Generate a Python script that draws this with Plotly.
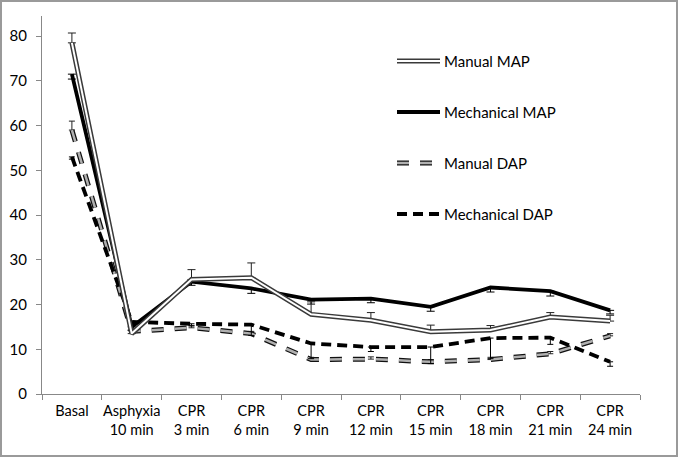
import plotly.graph_objects as go

categories = ["Basal", "Asphyxia<br>10 min", "CPR<br>3 min", "CPR<br>6 min", "CPR<br>9 min",
              "CPR<br>12 min", "CPR<br>15 min", "CPR<br>18 min", "CPR<br>21 min", "CPR<br>24 min"]

manual_map = [78.5, 13.5, 25.6, 26.0, 17.8, 16.5, 13.9, 14.3, 17.2, 16.3]
manual_map_err = [2.2, 0.8, 2.2, 3.3, 2.8, 1.7, 1.5, 1.0, 1.0, 1.3]
mech_map = [71.5, 15.0, 25.1, 23.6, 21.1, 21.3, 19.5, 23.8, 23.0, 18.7]
mech_map_err = [1.1, 0.8, 0.8, 1.1, 1.0, 0.9, 1.0, 1.0, 1.1, 0.8]
manual_dap = [59.0, 14.0, 14.8, 13.5, 7.7, 7.8, 7.2, 7.7, 9.0, 13.0]
manual_dap_err = [2.0, 0.5, 0.5, 0.5, 0.5, 0.5, 0.5, 0.5, 0.5, 0.5]
mech_dap = [53.0, 16.1, 15.7, 15.5, 11.3, 10.5, 10.5, 12.5, 12.6, 7.2]
mech_dap_err = [0.5, 0.5, 0.5, 2.4, 3.4, 1.0, 3.7, 4.6, 1.5, 1.0]

legend_names = ["Manual MAP", "Mechanical MAP", "Manual DAP", "Mechanical DAP"]

zeros = [0] * len(categories)
fig = go.Figure()

# Manual DAP (outlined gray dashes)
fig.add_trace(go.Scatter(x=categories, y=manual_dap, mode="lines",
                         line=dict(color="#111", width=5, dash="12px,11px"),
                         error_y=dict(type="data", symmetric=False, array=manual_dap_err,
                                      arrayminus=zeros, color="#222", thickness=1, width=3),
                         showlegend=False))
fig.add_trace(go.Scatter(x=categories, y=manual_dap, mode="lines",
                         line=dict(color="#b0b0b0", width=2.5, dash="12px,11px"),
                         showlegend=False))
# Mechanical DAP
fig.add_trace(go.Scatter(x=categories, y=mech_dap, mode="lines",
                         line=dict(color="black", width=3.8, dash="10px,6px"),
                         error_y=dict(type="data", symmetric=False, array=zeros,
                                      arrayminus=mech_dap_err, color="black", thickness=1, width=3),
                         showlegend=False))
# Mechanical MAP
fig.add_trace(go.Scatter(x=categories, y=mech_map, mode="lines",
                         line=dict(color="black", width=3.8),
                         error_y=dict(type="data", symmetric=False, array=zeros,
                                      arrayminus=mech_map_err, color="black", thickness=1, width=4),
                         showlegend=False))
# Manual MAP (double line)
fig.add_trace(go.Scatter(x=categories, y=manual_map, mode="lines",
                         line=dict(color="#3a3a3a", width=5),
                         error_y=dict(type="data", symmetric=False, array=manual_map_err,
                                      arrayminus=zeros, color="#222", thickness=1, width=4),
                         showlegend=False))
fig.add_trace(go.Scatter(x=categories, y=manual_map, mode="lines",
                         line=dict(color="white", width=2),
                         showlegend=False))

# Manual legend (decoration)
L, T, W, H = 42, 16, 598, 378
def px(xp):
    return (xp - L) / W
def py(yp):
    return (T + H - yp) / H

leg_y = [61, 112, 163, 214]
x0, x1, xt = 397, 440, 442
shapes = []
annotations = []
styles = [
    [dict(color="#3a3a3a", width=5), dict(color="white", width=2)],
    [dict(color="black", width=3.8)],
    [dict(color="#111", width=5, dash="12px,11px"), dict(color="#b0b0b0", width=2.5, dash="12px,11px")],
    [dict(color="black", width=3.8, dash="10px,6px")],
]
for name, yy, st in zip(legend_names, leg_y, styles):
    for s in st:
        shapes.append(dict(type="line", xref="paper", yref="paper",
                           x0=px(x0), x1=px(x1), y0=py(yy), y1=py(yy), line=s))
    annotations.append(dict(xref="paper", yref="paper", x=px(xt), y=py(yy), text=name,
                            showarrow=False, xanchor="left", yanchor="middle",
                            font=dict(family="Lato", size=15, color="black")))

# outer border
shapes.append(dict(type="rect", xref="paper", yref="paper",
                   x0=px(1), x1=px(677), y0=py(456), y1=py(1),
                   line=dict(color="#9a9a9a", width=2)))

fig.update_layout(
    width=678, height=457,
    margin=dict(l=L, r=678 - L - W, t=T, b=457 - T - H),
    paper_bgcolor="white", plot_bgcolor="white",
    showlegend=False,
    shapes=shapes, annotations=annotations,
    font=dict(family="Lato", size=14, color="black"),
    xaxis=dict(type="category", range=[-0.5, 9.5], showgrid=False, zeroline=False,
               showline=True, linecolor="#888", linewidth=1, automargin=False,
               tickangle=0, ticklabelstandoff=4,
               ticks="outside", tickson="boundaries", ticklen=5, tickcolor="#888",
               tickfont=dict(family="Lato", size=14.5)),
    yaxis=dict(range=[0, 84.5], tickvals=[0, 10, 20, 30, 40, 50, 60, 70, 80],
               showgrid=False, zeroline=False, showline=True, linecolor="#888", linewidth=1,
               automargin=False, ticklabelstandoff=6,
               ticks="outside", ticklen=5, tickcolor="#888",
               tickfont=dict(family="Lato", size=15)),
)

fig.write_html("out.html", config={"displayModeBar": False},
               post_script="document.body.style.margin='0px';document.body.style.overflow='hidden';")
